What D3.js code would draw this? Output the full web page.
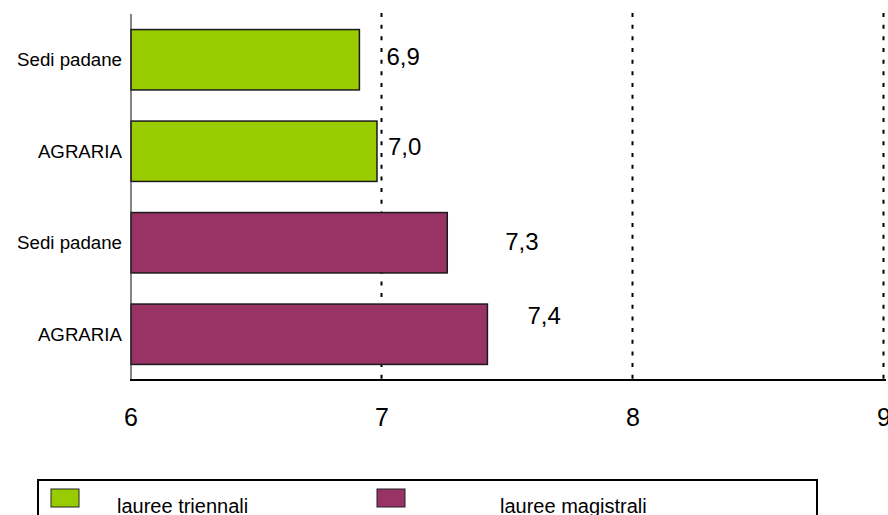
<!DOCTYPE html>
<html lang="it">
<head>
    <meta charset="UTF-8">
    <title>Voto medio</title>
    <script src="https://d3js.org/d3.v7.min.js"></script>
</head>
<style>
    body{
        margin: 0;
        background-color: white;
        overflow: hidden;
    }
    text{
        font-family: "Liberation Sans", Arial, sans-serif;
        fill: #000;
    }
</style>
<body>
    <script>
    // data
    const categories = ["Sedi padane", "AGRARIA", "Sedi padane", "AGRARIA"];
    const seriesOf = ["lauree triennali", "lauree triennali", "lauree magistrali", "lauree magistrali"];
    const values = [6.91, 6.98, 7.26, 7.42];
    const xTicks = [6, 7, 8, 9];
    const seriesNames = ["lauree triennali", "lauree magistrali"];
    const seriesColors = ["#99cc00", "#993366"];

    const width = 888;
    const height = 515;

    const svg = d3.select('body')
        .append('svg')
        .attr('width', width)
        .attr('height', height);

    const rows = categories.map((c, i) => ({
        id: i,
        category: c,
        series: seriesOf[i],
        value: values[i]
    }));

    const xScale = d3.scaleLinear()
        .domain([6, 9])
        .range([131, 884]);

    const yScale = d3.scaleBand()
        .domain(rows.map(d => d.id))
        .range([14, 380])
        .paddingInner(0.34)
        .paddingOuter(0.17);

    const color = d3.scaleOrdinal()
        .domain(seriesNames)
        .range(seriesColors);

    const fmt = v => d3.format('.1f')(v).replace('.', ',');

    // dotted grid lines (behind the bars)
    svg.append('g')
        .selectAll('line')
        .data(xTicks.slice(1))
        .enter()
        .append('line')
        .attr('x1', d => xScale(d) - 0.5)
        .attr('x2', d => xScale(d) - 0.5)
        .attr('y1', 13)
        .attr('y2', 379)
        .attr('stroke', '#000')
        .attr('stroke-width', 2)
        .attr('stroke-dasharray', '4,7.67');

    // bars
    svg.append('g')
        .selectAll('rect')
        .data(rows)
        .enter()
        .append('rect')
        .attr('x', xScale(6))
        .attr('y', d => yScale(d.id))
        .attr('width', d => xScale(d.value) - xScale(6))
        .attr('height', yScale.bandwidth())
        .attr('fill', d => color(d.series))
        .attr('stroke', '#1a1a1a')
        .attr('stroke-width', 1.5);

    // axes lines
    svg.append('line')
        .attr('x1', 131).attr('x2', 131)
        .attr('y1', 14).attr('y2', 380)
        .attr('stroke', '#333')
        .attr('stroke-width', 1.2);

    svg.append('line')
        .attr('x1', 130).attr('x2', 886)
        .attr('y1', 380).attr('y2', 380)
        .attr('stroke', '#000')
        .attr('stroke-width', 2);

    // category labels
    svg.append('g')
        .selectAll('text')
        .data(rows)
        .enter()
        .append('text')
        .attr('x', 122)
        .attr('y', d => yScale(d.id) + yScale.bandwidth() / 2 + 6.5)
        .attr('text-anchor', 'end')
        .style('font-size', '18.7px')
        .text(d => d.category);

    // value labels (the original places them a bit freely)
    const labelNudge = [[27, 5], [11, 4], [58, 7], [40, -10]];
    svg.append('g')
        .selectAll('text')
        .data(rows)
        .enter()
        .append('text')
        .attr('x', d => xScale(d.value) + labelNudge[d.id][0])
        .attr('y', d => yScale(d.id) + yScale.bandwidth() / 2 + labelNudge[d.id][1])
        .style('font-size', '24px')
        .text(d => fmt(d.value));

    // x tick labels
    svg.append('g')
        .selectAll('text')
        .data(xTicks)
        .enter()
        .append('text')
        .attr('x', d => xScale(d))
        .attr('y', 426)
        .attr('text-anchor', 'middle')
        .style('font-size', '25px')
        .text(d => d);

    // legend
    const legend = svg.append('g');
    legend.append('rect')
        .attr('x', 38)
        .attr('y', 480)
        .attr('width', 779)
        .attr('height', 60)
        .attr('fill', 'none')
        .attr('stroke', '#000')
        .attr('stroke-width', 2);

    const legendX = d3.scalePoint()
        .domain(seriesNames)
        .range([51, 377]);

    const item = legend.selectAll('.item')
        .data(seriesNames)
        .enter()
        .append('g')
        .attr('class', 'item')
        .attr('transform', d => `translate(${legendX(d)}, 489)`);

    item.append('rect')
        .attr('width', 28)
        .attr('height', 18)
        .attr('fill', d => color(d))
        .attr('stroke', '#222')
        .attr('stroke-width', 1);

    item.append('text')
        .attr('x', (d, i) => i === 0 ? 66 : 123)
        .attr('y', 24)
        .style('font-size', '20px')
        .text(d => d);
    </script>
</body>
</html>
